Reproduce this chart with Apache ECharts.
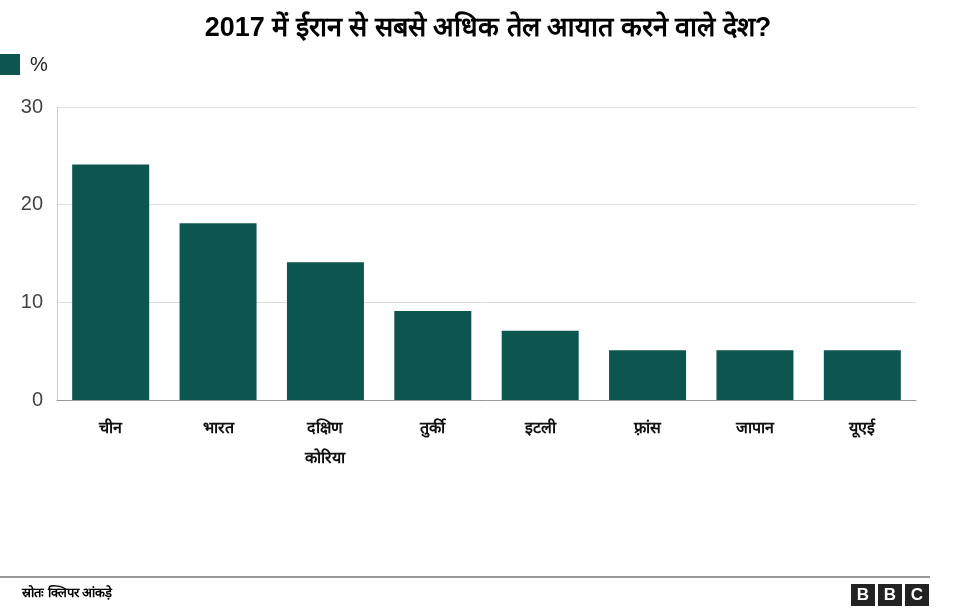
<!DOCTYPE html>
<html><head><meta charset="utf-8">
<script src="https://cdn.jsdelivr.net/npm/echarts@6/dist/echarts.min.js"></script>
<style>body{margin:0;background:#fff}#c{width:976px;height:609px}</style></head>
<body><div id="c"></div>
<script>
const categories = ['चीन','भारत','दक्षिण\nकोरिया','तुर्की','इटली','फ़्रांस','जापान','यूएई'];
const values = [24.1, 18.1, 14.1, 9.1, 7.1, 5.1, 5.1, 5.1];
const yTicks = [0, 10, 20, 30];
const chart = echarts.init(document.getElementById('c'));
const bbc = ['B','B','C'].map((l,i)=>({type:'group',left:851+i*27,top:584,children:[
 {type:'rect',shape:{x:0,y:0,width:24,height:22},style:{fill:'#222'}},
 {type:'text',style:{text:l,x:12,y:11,align:'center',verticalAlign:'middle',fill:'#fff',font:'bold 17px Arial'}}]}));
chart.setOption({
 animation:false,
 title:{text:'2017 में ईरान से सबसे अधिक तेल आयात करने वाले देश?',left:'center',top:10,textStyle:{fontSize:27,fontWeight:'bold',color:'#000'}},
 grid:{left:57,right:60,top:107,bottom:209},
 graphic:[
  {type:'rect',shape:{x:0,y:54,width:20,height:21},style:{fill:'#0d5650'}},
  {type:'text',style:{text:'%',x:30,y:65,verticalAlign:'middle',fill:'#222',font:'20px sans-serif'}},
  {type:'line',shape:{x1:0,y1:577,x2:930,y2:577},style:{stroke:'#333',lineWidth:1}},
  {type:'text',style:{text:'स्रोतः क्लिपर आंकड़े',x:22,y:593,verticalAlign:'middle',fill:'#000',font:'bold 13px sans-serif'}},
  ...bbc
 ],
 xAxis:{type:'category',data:categories,axisTick:{show:false},axisLine:{lineStyle:{color:'#999'}},
  axisLabel:{color:'#111',fontSize:16,fontWeight:'bold',margin:14,lineHeight:30,verticalAlign:'top'}},
 yAxis:{type:'value',min:0,max:30,interval:10,axisLine:{show:true,lineStyle:{color:'#ccc'}},
  splitLine:{lineStyle:{color:'#ddd'}},axisLabel:{color:'#444',fontSize:20,margin:14,formatter:v=>yTicks.includes(v)?v:''}},
 series:[{type:'bar',data:values,barWidth:77,itemStyle:{color:'#0d5650'}}]
});
</script></body></html>
